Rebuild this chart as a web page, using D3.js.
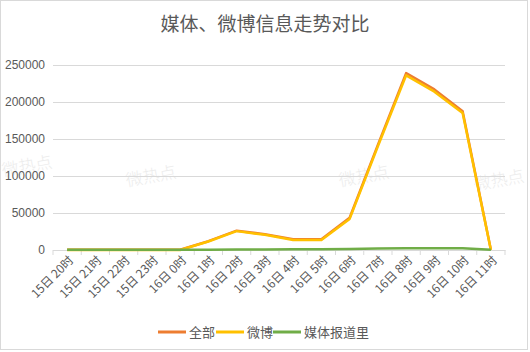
<!DOCTYPE html>
<html lang="zh">
<head>
<meta charset="UTF-8">
<title>媒体、微博信息走势对比</title>
<script src="https://d3js.org/d3.v7.min.js"></script>
<style>
    body { margin: 0; background: #fff; }
    text { font-family: "Noto Sans CJK SC", "Noto Sans", sans-serif; }
</style>
</head>
<body>
<script>
    var categories = ["15日 20时", "15日 21时", "15日 22时", "15日 23时", "16日 0时", "16日 1时",
        "16日 2时", "16日 3时", "16日 4时", "16日 5时", "16日 6时", "16日 7时",
        "16日 8时", "16日 9时", "16日 10时", "16日 11时"];
    var weibo = [0, 0, 0, 0, 0, 11500, 25500, 20500, 13500, 13500, 42000, 140000,
        236000, 214000, 185000, 0];
    var media = [400, 400, 300, 300, 300, 400, 600, 800, 900, 1000, 1500, 2000,
        2500, 2500, 2500, 300];
    var total = [400, 400, 300, 300, 300, 11900, 26100, 21300, 14400, 14500, 43500, 142000,
        239000, 217000, 187500, 300];
    var yTicks = [0, 50000, 100000, 150000, 200000, 250000];
    var seriesNames = ["全部", "微博", "媒体报道里"];
    var colors = ["#ED7D31", "#FFC000", "#70AD47"];

    var w = 530, h = 352;
    var plotLeft = 53, plotRight = 505, plotTop = 65, plotBottom = 250;

    var svg = d3.select("body").append("svg")
        .attr("width", w)
        .attr("height", h);

    // outer frame
    svg.append("rect")
        .attr("x", 0.5).attr("y", 0.5)
        .attr("width", w - 3).attr("height", h - 3)
        .attr("fill", "#fff")
        .attr("stroke", "#d9d9d9");

    svg.append("text")
        .attr("x", 265).attr("y", 31)
        .attr("text-anchor", "middle")
        .attr("font-size", 19)
        .attr("fill", "#595959")
        .text("媒体、微博信息走势对比");

    // watermarks
    var marks = [[28, 172], [152, 182], [365, 182], [500, 186]];
    svg.selectAll(".wm")
        .data(marks)
        .enter()
        .append("text")
        .attr("class", "wm")
        .attr("transform", function(d) { return "translate(" + d[0] + "," + d[1] + ") rotate(-10)"; })
        .attr("text-anchor", "middle")
        .attr("font-size", 17)
        .attr("font-weight", 300)
        .attr("fill", "#ececec")
        .text("微热点");

    var xScale = d3.scaleBand()
        .domain(categories)
        .range([plotLeft, plotRight]);

    var yScale = d3.scaleLinear()
        .domain([0, 250000])
        .range([plotBottom, plotTop]);

    // gridlines
    svg.append("g")
        .attr("transform", "translate(" + plotLeft + ",0)")
        .call(d3.axisLeft(yScale).tickValues(yTicks).tickSize(-(plotRight - plotLeft)).tickFormat(""))
        .call(function(g) {
            g.select(".domain").remove();
            g.selectAll("line").attr("stroke", "#d9d9d9");
        });

    // y labels
    svg.append("g")
        .attr("transform", "translate(" + plotLeft + ",0)")
        .call(d3.axisLeft(yScale).tickValues(yTicks).tickSize(0).tickPadding(8).tickFormat(d3.format("d")))
        .call(function(g) {
            g.select(".domain").remove();
            g.selectAll("text")
                .attr("font-size", 12)
                .attr("fill", "#595959")
                .style("font-family", "'Liberation Sans', sans-serif");
        });

    // x axis
    var xAxis = svg.append("g")
        .attr("transform", "translate(0," + plotBottom + ")")
        .call(d3.axisBottom(xScale).tickSize(0).tickFormat(""));
    xAxis.select(".domain").attr("stroke", "#d9d9d9");

    var edges = categories.map(function(c) { return xScale(c); }).concat([plotRight]);
    svg.selectAll(".xtick")
        .data(edges)
        .enter()
        .append("line")
        .attr("x1", function(d) { return d; })
        .attr("x2", function(d) { return d; })
        .attr("y1", plotBottom)
        .attr("y2", plotBottom + 5)
        .attr("stroke", "#d9d9d9");

    svg.selectAll(".xlab")
        .data(categories)
        .enter()
        .append("text")
        .attr("class", "xlab")
        .attr("transform", function(d) {
            return "translate(" + (xScale(d) + xScale.bandwidth() / 2 + 7) + "," + (plotBottom + 11) + ") rotate(-45)";
        })
        .attr("text-anchor", "end")
        .attr("font-size", 12)
        .attr("fill", "#595959")
        .text(function(d) { return d; });

    var line = d3.line()
        .x(function(d, i) { return xScale(categories[i]) + xScale.bandwidth() / 2; })
        .y(function(d) { return yScale(d); });

    var allSeries = [total, weibo, media];
    svg.selectAll(".series")
        .data(allSeries)
        .enter()
        .append("path")
        .attr("class", "series")
        .attr("d", function(d) { return line(d); })
        .attr("fill", "none")
        .attr("stroke", function(d, i) { return colors[i]; })
        .attr("stroke-width", 2.5)
        .attr("stroke-linejoin", "round");

    // legend
    var legendX = [158, 216, 273];
    var legend = svg.selectAll(".legend")
        .data(seriesNames)
        .enter()
        .append("g")
        .attr("transform", function(d, i) { return "translate(" + legendX[i] + ",332)"; });
    legend.append("line")
        .attr("x1", 0).attr("x2", 28)
        .attr("stroke", function(d, i) { return colors[i]; })
        .attr("stroke-width", 3);
    legend.append("text")
        .attr("x", 31).attr("y", 5)
        .attr("font-size", 13)
        .attr("fill", "#595959")
        .text(function(d) { return d; });
</script>
</body>
</html>
